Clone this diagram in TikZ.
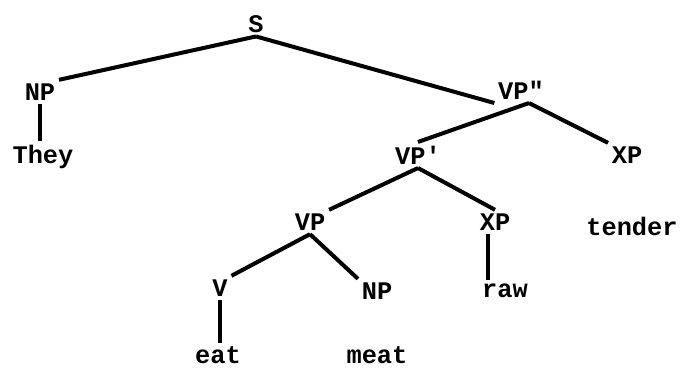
\documentclass[tikz,border=0pt]{standalone}
\usepackage{fontspec}
\setmonofont{Liberation Mono}

\tikzset{every picture/.style={line width=0.75pt}}
\tikzset{cat/.style={font=\ttfamily\bfseries\fontsize{19}{22}\selectfont, inner sep=2.5pt},
  branch/.style={line width=3pt}}

\begin{document}
\begin{tikzpicture}[x=0.75pt,y=0.75pt,yscale=-1,xscale=1]
\path[use as bounding box] (0,0) rectangle (682,370);

% Text Node
\node[cat] (s) at (256,24) {S};
% Text Node
\node[cat] (np1) at (40,92) {NP};
% Text Node
\node[cat] (they) at (43,157) {They};
% Text Node
\node[cat] (vp2) at (521,90) {VP"};
% Text Node
\node[cat] (vp1) at (418,155) {VP'};
% Text Node
\node[cat] (xp1) at (627,155) {XP};
% Text Node
\node[cat] (vp) at (310,222) {VP};
% Text Node
\node[cat] (xp2) at (495,222) {XP};
% Text Node
\node[cat] (tender) at (632,226) {tender};
% Text Node
\node[cat] (v) at (220,288) {V};
% Text Node
\node[cat] (np2) at (377,291) {NP};
% Text Node
\node[cat] (raw) at (505,291) {raw};
% Text Node
\node[cat] (eat) at (218,355) {eat};
% Text Node
\node[cat] (meat) at (377,355) {meat};

\draw[branch] (s.south) -- (np1.north east);
\draw[branch] (s.south) -- (vp2.south west);
\draw[branch] (np1.south) -- (np1.south |- they.north);
\draw[branch] ([xshift=6]vp2.south) -- (vp1.north);
\draw[branch] ([xshift=6]vp2.south) -- (xp1.north west);
\draw[branch] (vp1.south) -- (vp.north east);
\draw[branch] (vp1.south) -- (xp2.north);
\draw[branch] (vp.south) -- (v.north east);
\draw[branch] (vp.south) -- (np2.north west);
\draw[branch] ([xshift=-5]xp2.south) -- ([xshift=-5]xp2.south |- raw.north);
\draw[branch] (v.south) -- (v.south |- eat.north);

\end{tikzpicture}
\end{document}
